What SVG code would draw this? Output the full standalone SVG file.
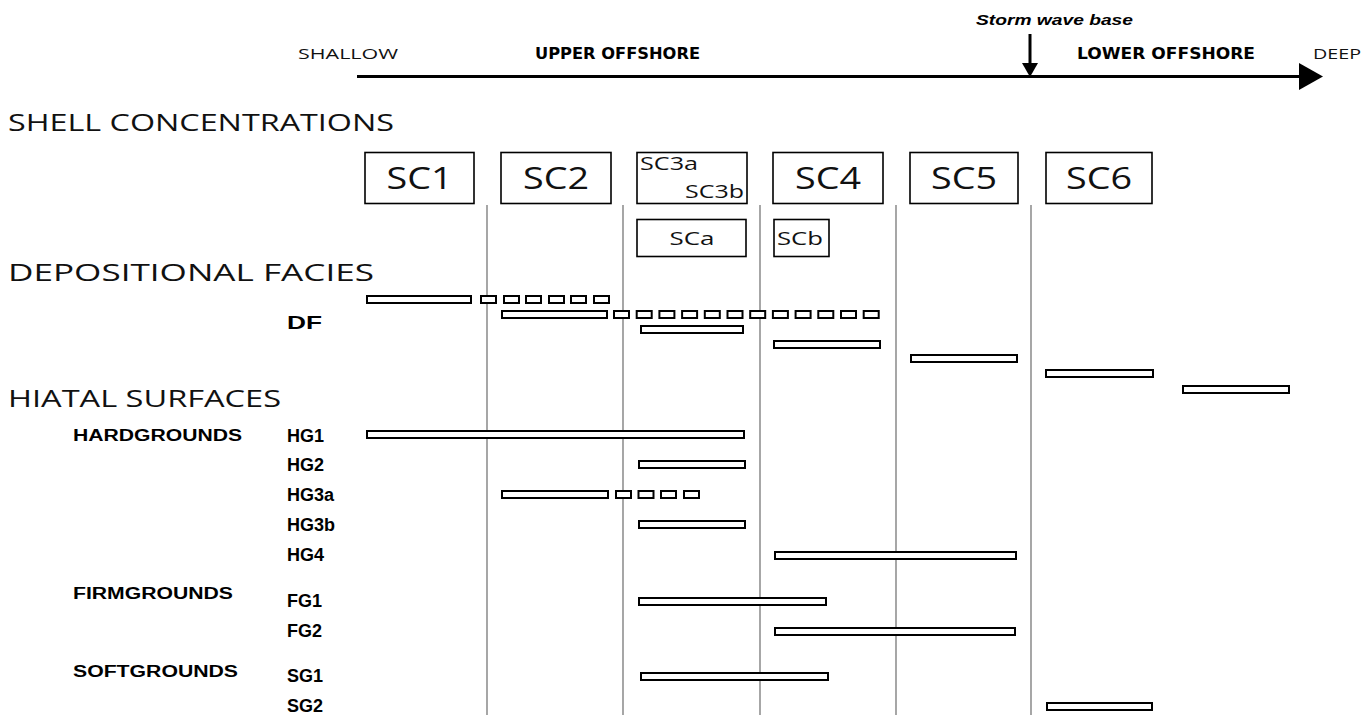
<svg xmlns="http://www.w3.org/2000/svg" width="1369" height="715" viewBox="0 0 1369 715">
<style>
.bg{fill:#fff}
.head{font-family:"Open Sans","Liberation Sans",Arial,sans-serif;font-weight:400;font-size:23px;fill:#111}
.small{font-family:"Open Sans","Liberation Sans",Arial,sans-serif;font-weight:400;font-size:15px;fill:#111}
.zone{font-family:"DejaVu Sans","Liberation Sans",sans-serif;font-weight:bold;font-size:16px;fill:#000}
.storm{font-family:"Liberation Sans",Arial,sans-serif;font-weight:bold;font-style:italic;font-size:15px;fill:#000}
.box{fill:#fff;stroke:#000;stroke-width:1.6}
.sc{font-family:"Open Sans","Liberation Sans",Arial,sans-serif;font-weight:400;font-size:31px;fill:#111;text-anchor:middle}
.scs{font-family:"Open Sans","Liberation Sans",Arial,sans-serif;font-weight:400;font-size:19px;fill:#111}
.vl{stroke:#777;stroke-width:1.3}
.bar{fill:#fff;stroke:#000;stroke-width:2}
.lbl{font-family:"Liberation Sans",Arial,sans-serif;font-weight:bold;font-size:18px;fill:#000}
.grp{font-family:"Liberation Sans",Arial,sans-serif;font-weight:bold;font-size:16px;fill:#000}
</style>
<rect class="bg" x="0" y="0" width="1369" height="715"/>

<g id="axis">
  <line x1="357" y1="76.5" x2="1302" y2="76.5" stroke="#000" stroke-width="3"/>
  <polygon points="1299,63 1323,76.5 1299,90" fill="#000"/>
  <text class="small" x="298" y="59" textLength="100" lengthAdjust="spacingAndGlyphs">SHALLOW</text>
  <text class="zone" x="535" y="59" textLength="165" lengthAdjust="spacingAndGlyphs">UPPER OFFSHORE</text>
  <text class="zone" x="1077" y="59" textLength="178" lengthAdjust="spacingAndGlyphs">LOWER OFFSHORE</text>
  <text class="small" x="1313" y="59" textLength="48" lengthAdjust="spacingAndGlyphs">DEEP</text>
  <text class="storm" x="976" y="25" textLength="157" lengthAdjust="spacingAndGlyphs">Storm wave base</text>
  <line x1="1030" y1="34" x2="1030" y2="64" stroke="#000" stroke-width="3"/>
  <polygon points="1022,63 1038,63 1030,77" fill="#000"/>
</g>

<g id="headings">
  <text class="head" x="8" y="131" textLength="386" lengthAdjust="spacingAndGlyphs">SHELL CONCENTRATIONS</text>
  <text class="head" x="8" y="281" textLength="366" lengthAdjust="spacingAndGlyphs">DEPOSITIONAL FACIES</text>
  <text class="head" x="8" y="407" textLength="273" lengthAdjust="spacingAndGlyphs">HIATAL SURFACES</text>
</g>

<g id="dividers">
  <line class="vl" x1="487" y1="205" x2="487" y2="715"/>
  <line class="vl" x1="623" y1="205" x2="623" y2="715"/>
  <line class="vl" x1="760" y1="205" x2="760" y2="715"/>
  <line class="vl" x1="896" y1="205" x2="896" y2="715"/>
  <line class="vl" x1="1031" y1="205" x2="1031" y2="715"/>
</g>

<g id="SC1"><rect class="box" x="365" y="152.5" width="109" height="51"/><text class="sc" x="419.5" y="189" textLength="66" lengthAdjust="spacingAndGlyphs">SC1</text></g>
<g id="SC2"><rect class="box" x="501" y="152.5" width="110" height="51"/><text class="sc" x="556" y="189" textLength="66" lengthAdjust="spacingAndGlyphs">SC2</text></g>
<g id="SC3"><rect class="box" x="637" y="152.5" width="110" height="51"/>
  <text class="scs" x="640" y="170" textLength="58" lengthAdjust="spacingAndGlyphs">SC3a</text>
  <text class="scs" x="744" y="198" text-anchor="end" textLength="59" lengthAdjust="spacingAndGlyphs">SC3b</text></g>
<g id="SC4"><rect class="box" x="773" y="152.5" width="110" height="51"/><text class="sc" x="828" y="189" textLength="66" lengthAdjust="spacingAndGlyphs">SC4</text></g>
<g id="SC5"><rect class="box" x="910" y="152.5" width="108" height="51"/><text class="sc" x="964" y="189" textLength="66" lengthAdjust="spacingAndGlyphs">SC5</text></g>
<g id="SC6"><rect class="box" x="1046" y="152.5" width="106" height="51"/><text class="sc" x="1099" y="189" textLength="66" lengthAdjust="spacingAndGlyphs">SC6</text></g>
<g id="SCa"><rect class="box" x="637" y="219.5" width="109" height="37"/><text class="scs" x="692" y="245" text-anchor="middle" textLength="45" lengthAdjust="spacingAndGlyphs">SCa</text></g>
<g id="SCb"><rect class="box" x="774" y="219.5" width="55" height="37"/><text class="scs" x="777" y="245" textLength="46" lengthAdjust="spacingAndGlyphs">SCb</text></g>

<g id="labels">
  <text class="lbl" x="287" y="329" font-size="21" textLength="35" lengthAdjust="spacingAndGlyphs">DF</text>
  <text class="grp" x="73" y="441" textLength="169" lengthAdjust="spacingAndGlyphs">HARDGROUNDS</text>
  <text class="grp" x="73" y="599" textLength="160" lengthAdjust="spacingAndGlyphs">FIRMGROUNDS</text>
  <text class="grp" x="73" y="677" textLength="165" lengthAdjust="spacingAndGlyphs">SOFTGROUNDS</text>
  <text class="lbl" x="287" y="442">HG1</text>
  <text class="lbl" x="287" y="471">HG2</text>
  <text class="lbl" x="287" y="501">HG3a</text>
  <text class="lbl" x="287" y="531">HG3b</text>
  <text class="lbl" x="287" y="561">HG4</text>
  <text class="lbl" x="287" y="607">FG1</text>
  <text class="lbl" x="287" y="637">FG2</text>
  <text class="lbl" x="287" y="682">SG1</text>
  <text class="lbl" x="287" y="712">SG2</text>
</g>

<g id="DF-bars">
  <rect class="bar" x="367" y="296" width="104" height="7"/>
  <rect class="bar" x="481" y="296" width="15" height="7"/>
  <rect class="bar" x="504" y="296" width="15" height="7"/>
  <rect class="bar" x="526" y="296" width="15" height="7"/>
  <rect class="bar" x="549" y="296" width="15" height="7"/>
  <rect class="bar" x="571" y="296" width="15" height="7"/>
  <rect class="bar" x="594" y="296" width="15" height="7"/>

  <rect class="bar" x="502" y="311" width="105" height="7"/>
  <rect class="bar" x="614" y="311" width="15" height="7"/>
  <rect class="bar" x="636.7" y="311" width="15" height="7"/>
  <rect class="bar" x="659.4" y="311" width="15" height="7"/>
  <rect class="bar" x="682.1" y="311" width="15" height="7"/>
  <rect class="bar" x="704.8" y="311" width="15" height="7"/>
  <rect class="bar" x="727.5" y="311" width="15" height="7"/>
  <rect class="bar" x="750.2" y="311" width="15" height="7"/>
  <rect class="bar" x="772.9" y="311" width="15" height="7"/>
  <rect class="bar" x="795.6" y="311" width="15" height="7"/>
  <rect class="bar" x="818.3" y="311" width="15" height="7"/>
  <rect class="bar" x="841" y="311" width="15" height="7"/>
  <rect class="bar" x="863.7" y="311" width="15" height="7"/>

  <rect class="bar" x="641" y="326" width="102" height="7"/>
  <rect class="bar" x="774" y="341" width="106" height="7"/>
  <rect class="bar" x="911" y="355" width="106" height="7"/>
  <rect class="bar" x="1046" y="370" width="107" height="7"/>
  <rect class="bar" x="1183" y="386" width="106" height="7"/>
</g>

<g id="HS-bars">
  <rect class="bar" x="367" y="431" width="377" height="7"/>
  <rect class="bar" x="639" y="461" width="106" height="7"/>
  <rect class="bar" x="502" y="491" width="106" height="7"/>
  <rect class="bar" x="616" y="491" width="15" height="7"/>
  <rect class="bar" x="638.5" y="491" width="15" height="7"/>
  <rect class="bar" x="661" y="491" width="15" height="7"/>
  <rect class="bar" x="684" y="491" width="15" height="7"/>
  <rect class="bar" x="639" y="521" width="106" height="7"/>
  <rect class="bar" x="775" y="552" width="241" height="7"/>
  <rect class="bar" x="639" y="598" width="187" height="7"/>
  <rect class="bar" x="775" y="628" width="240" height="7"/>
  <rect class="bar" x="641" y="673" width="187" height="7"/>
  <rect class="bar" x="1047" y="703" width="105" height="7"/>
</g>
</svg>
